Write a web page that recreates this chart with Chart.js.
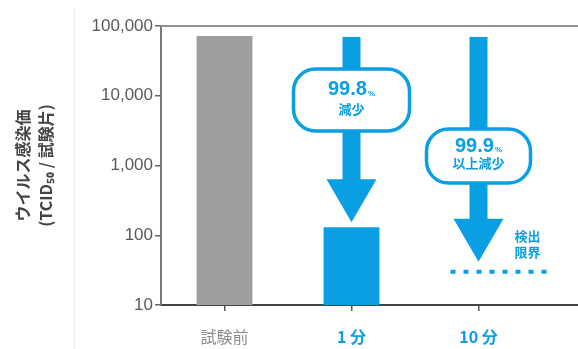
<!DOCTYPE html>
<html>
<head>
<meta charset="utf-8">
<script src="https://cdn.jsdelivr.net/npm/chart.js@4.4.0/dist/chart.umd.min.js"></script>
<style>
  html, body { margin: 0; padding: 0; background: #fff; overflow: hidden; }
  #wrap { position: relative; width: 680px; height: 349px; }
  #rule { position: absolute; left: 74px; top: 8px; width: 1px; height: 341px; background: #ededed; }
</style>
</head>
<body>
<div id="wrap"><div id="rule"></div><canvas id="chart"></canvas></div>
<script>
// data
const categories = ['試験前', '1 分', '10 分', ''];
const titerValues = [72000, 130, null, null];
const detectionLimit = 30;
const reductionRates = ['', '99.8', '99.9', ''];
const reductionNotes = ['', '減少', '以上減少', ''];
const yTicks = [10, 100, 1000, 10000, 100000];
const yTitle = ['ウイルス感染価', '(TCID₅₀ / 試験片)'];
const limitLabel = ['検出', '限界'];

const BLUE = '#0a9ee2';
const GRAY = '#9d9e9e';
const JP = "'Noto Sans CJK JP', 'Noto Sans', sans-serif";
const LAT = "'Liberation Sans', 'Noto Sans CJK JP', sans-serif";

// pill sizes and where they sit along each arrow (0 = top, 1 = tip)
const pills = {
  1: { w: 116, h: 62, at: 0.34, dy1: -10, dy2: 9 },
  2: { w: 104, h: 54, at: 0.53, dy1: -10, dy2: 7 }
};

function drawArrow(ctx, cx, top, tip) {
  const shaft = 18, head = 50, headH = 43;
  ctx.fillStyle = BLUE;
  ctx.fillRect(cx - shaft / 2, top, shaft, tip - headH - top + 1);
  ctx.beginPath();
  ctx.moveTo(cx - head / 2, tip - headH);
  ctx.lineTo(cx + head / 2, tip - headH);
  ctx.lineTo(cx, tip);
  ctx.closePath();
  ctx.fill();
}

const annotate = {
  id: 'annotate',
  beforeDatasetsDraw(chart) {
    const { ctx, chartArea: a } = chart;
    ctx.save();
    ctx.strokeStyle = '#8f8f8f';
    ctx.lineWidth = 2;
    ctx.beginPath();
    ctx.moveTo(a.left, a.top);
    ctx.lineTo(a.right, a.top);
    ctx.stroke();
    ctx.restore();
  },
  afterDatasetsDraw(chart) {
    const { ctx, scales: { x, y } } = chart;
    const top = y.getPixelForValue(titerValues[0]) + 1;
    const limitY = y.getPixelForValue(detectionLimit);
    ctx.save();

    [1, 2].forEach(i => {
      const cx = x.getPixelForValue(i);
      const hasBar = titerValues[i] != null;
      const tip = hasBar ? y.getPixelForValue(titerValues[i]) - 5 : limitY - 10;
      drawArrow(ctx, cx, top, tip);

      const p = pills[i];
      const cy = top + (tip - top) * p.at;
      ctx.beginPath();
      ctx.roundRect(cx - p.w / 2, cy - p.h / 2, p.w, p.h, 22);
      ctx.fillStyle = '#fff';
      ctx.fill();
      ctx.lineWidth = 3.5;
      ctx.strokeStyle = BLUE;
      ctx.stroke();

      ctx.fillStyle = BLUE;
      ctx.textBaseline = 'middle';
      ctx.font = 'bold 20px ' + LAT;
      const rw = ctx.measureText(reductionRates[i]).width;
      ctx.font = 'bold 8px ' + LAT;
      const pw = ctx.measureText('%').width;
      const rx = cx - (rw + pw + 1) / 2;
      ctx.textAlign = 'left';
      ctx.font = 'bold 20px ' + LAT;
      ctx.fillText(reductionRates[i], rx, cy + p.dy1);
      ctx.font = 'bold 8px ' + LAT;
      ctx.fillText('%', rx + rw + 1, cy + p.dy1 + 4);
      ctx.textAlign = 'center';
      ctx.font = 'bold 13px ' + JP;
      ctx.fillText(reductionNotes[i], cx, cy + p.dy2);

      if (!hasBar) {
        ctx.strokeStyle = BLUE;
        ctx.lineWidth = 4;
        ctx.setLineDash([5, 8]);
        ctx.beginPath();
        ctx.moveTo(cx - 28, limitY);
        ctx.lineTo(cx + 70, limitY);
        ctx.stroke();
        ctx.setLineDash([]);
        ctx.font = 'bold 13px ' + JP;
        ctx.fillText(limitLabel[0], cx + 49, limitY - 36);
        ctx.fillText(limitLabel[1], cx + 49, limitY - 20);
      }
    });
    ctx.restore();
  }
};

new Chart(document.getElementById('chart'), {
  type: 'bar',
  data: {
    labels: categories,
    datasets: [{
      data: titerValues,
      backgroundColor: [GRAY, BLUE, BLUE, BLUE],
      categoryPercentage: 1,
      barPercentage: 0.44
    }]
  },
  options: {
    responsive: true,
    maintainAspectRatio: false,
    animation: false,
    layout: { padding: { top: 26, right: 11, bottom: 0, left: 0 } },
    plugins: { legend: { display: false }, tooltip: { enabled: false } },
    scales: {
      x: {
        offset: true,
        afterFit: s => { s.height = 44; },
        grid: { drawOnChartArea: false, offset: false, tickLength: 6, color: '#555', lineWidth: 1.5 },
        border: { color: '#444', width: 2 },
        ticks: {
          padding: 16,
          color: c => (c.index === 0 ? '#8c8c8c' : BLUE),
          font: c => ({ family: JP, size: 16, weight: c.index === 0 ? 'normal' : 'bold' })
        }
      },
      y: {
        type: 'logarithmic',
        min: 10,
        max: 100000,
        afterBuildTicks: s => { s.ticks = yTicks.map(v => ({ value: v })); },
        afterFit: s => { s.width = 161; },
        grid: { drawOnChartArea: false, tickLength: 6, color: '#666', lineWidth: 1.5 },
        border: { color: '#7a7a7a', width: 2 },
        ticks: {
          padding: 2,
          color: '#5a5a5a',
          font: { family: LAT, size: 17 },
          callback: v => Number(v).toLocaleString('en-US')
        },
        title: {
          display: true,
          text: yTitle,
          color: '#444',
          padding: { top: 12, bottom: 0 },
          font: { family: JP, size: 16, weight: 'bold', lineHeight: 1.4 }
        }
      }
    }
  },
  plugins: [annotate]
});
</script>
</body>
</html>
